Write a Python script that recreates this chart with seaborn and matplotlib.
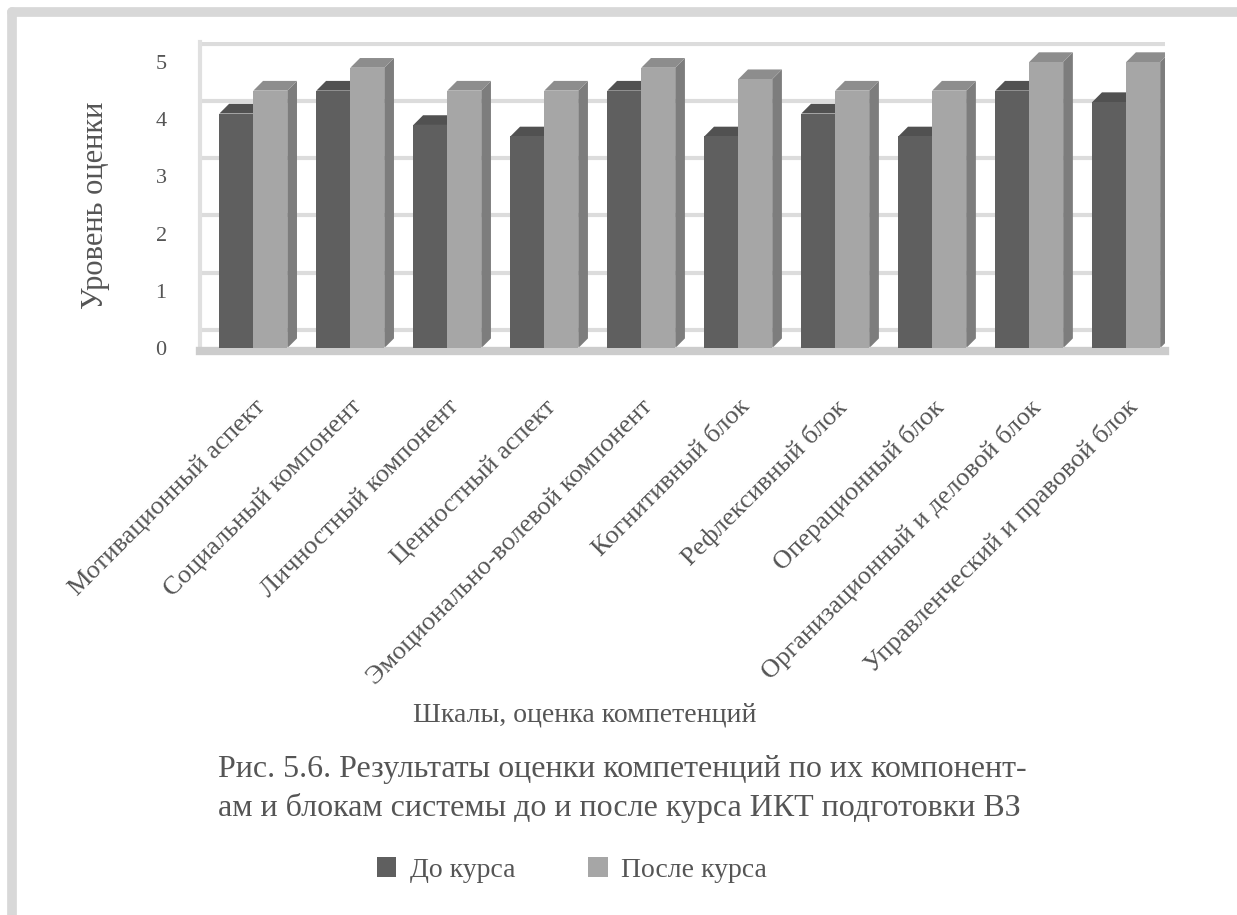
import numpy as np
import pandas as pd
import matplotlib
matplotlib.use("Agg")
import matplotlib.pyplot as plt
from matplotlib.patches import Polygon, Patch
from matplotlib.lines import Line2D
from matplotlib.colors import to_rgb
import seaborn as sns

# ---- data -------------------------------------------------------------
categories = [
    "Мотивационный аспект",
    "Социальный компонент",
    "Личностный компонент",
    "Ценностный аспект",
    "Эмоционально-волевой компонент",
    "Когнитивный блок",
    "Рефлексивный блок",
    "Операционный блок",
    "Организационный и деловой блок",
    "Управленческий и правовой блок",
]
before_course = [4.1, 4.5, 3.9, 3.7, 4.5, 3.7, 4.1, 3.7, 4.5, 4.3]
after_course = [4.5, 4.9, 4.5, 4.5, 4.9, 4.7, 4.5, 4.5, 5.0, 5.0]
series_names = ["До курса", "После курса"]
y_ticks = [0, 1, 2, 3, 4, 5]

y_title = "Уровень оценки"
x_title = "Шкалы, оценка компетенций"
caption_1 = "Рис. 5.6. Результаты оценки компетенций по их компонент-"
caption_2 = "ам и блокам системы до и после курса ИКТ подготовки ВЗ"

# ---- style ------------------------------------------------------------
sns.set_theme(style="white")
plt.rcParams["font.family"] = ["Liberation Serif", "DejaVu Serif"]
text_col = "#555555"

face_cols = ["#5f5f5f", "#a6a6a6"]

df = pd.DataFrame({
    "cat": categories * 2,
    "val": before_course + after_course,
    "series": [series_names[0]] * len(categories) + [series_names[1]] * len(categories),
})

W, H = 1237, 915
fig = plt.figure(figsize=(W / 100, H / 100), dpi=100)
ax = fig.add_axes([200 / W, 1 - 351 / H, 965 / W, 309 / H])

sns.barplot(data=df, x="cat", y="val", hue="series", palette=face_cols,
            width=0.7, gap=0, saturation=1, legend=False, ax=ax,
            edgecolor="none", linewidth=0)

# ---- pseudo 3D faces (depth offset derived from each bar) -------------
depth_x, depth_y = 0.10, 0.17


def shade(c, f):
    r, g, b = to_rgb(c)
    return (r * f, g * f, b * f)


for p in ax.patches:
    x0 = p.get_x()
    x1 = x0 + p.get_width()
    h = p.get_height()
    fc = p.get_facecolor()
    p.set_zorder(3)
    side = Polygon([(x1, 0), (x1 + depth_x, depth_y), (x1 + depth_x, h + depth_y), (x1, h)],
                   closed=True, facecolor=shade(fc, 0.75), edgecolor="none", zorder=2)
    top = Polygon([(x0, h), (x0 + depth_x, h + depth_y), (x1 + depth_x, h + depth_y), (x1, h)],
                  closed=True, facecolor=shade(fc, 0.85), edgecolor="none", zorder=2)
    ax.add_patch(side)
    ax.add_patch(top)

# back-wall grid, lifted by the depth offset
wall_lift = 0.32
for v in y_ticks:
    ax.axhline(v + wall_lift, color="#dcdcdc", lw=3, zorder=1)

ax.set_xlim(-0.55, 9.40)
ax.set_ylim(-0.05, 5.35)
ax.set_yticks(y_ticks)
ax.set_yticklabels([str(t) for t in y_ticks], fontsize=16, color=text_col)
ax.tick_params(axis="y", length=0, pad=24)

ax.set_xlabel("")
ax.set_ylabel(y_title, fontsize=22, color=text_col)
ax.yaxis.set_label_coords(-0.093, 0.47)

ax.set_xticks(range(len(categories)))
ax.set_xticklabels(categories, rotation=45, ha="right", rotation_mode="anchor",
                   fontsize=19, color=text_col)
ax.tick_params(axis="x", length=0, pad=32)

for s in ["top", "right"]:
    ax.spines[s].set_visible(False)
ax.spines["left"].set_color("#e0e0e0")
ax.spines["left"].set_linewidth(3)
ax.spines["bottom"].set_color("#cccccc")
ax.spines["bottom"].set_linewidth(6)

# ---- titles, caption, legend -----------------------------------------
fig.text(585 / W, 1 - 715 / H, x_title, ha="center", va="center",
         fontsize=20, color=text_col)
fig.text(218 / W, 1 - 770 / H, caption_1, ha="left", va="center",
         fontsize=23, color=text_col)
fig.text(218 / W, 1 - 808 / H, caption_2, ha="left", va="center",
         fontsize=23, color=text_col)

handles = [Patch(facecolor=c, edgecolor="none") for c in face_cols]
fig.legend(handles, series_names, loc="center left", bbox_to_anchor=(352 / W, 1 - 870 / H),
           ncol=2, frameon=False, fontsize=20, handlelength=0.7, handleheight=0.7,
           columnspacing=2.6, handletextpad=0.5, labelcolor=text_col)

# page frame on the left and top edges
fig.add_artist(Line2D([12 / W, 1], [1 - 12 / H, 1 - 12 / H], color="#d8d8d8", lw=7,
                      transform=fig.transFigure))
fig.add_artist(Line2D([12 / W, 12 / W], [0, 1 - 12 / H], color="#d8d8d8", lw=7,
                      transform=fig.transFigure))

fig.savefig("out.png", dpi=100, facecolor="white")
